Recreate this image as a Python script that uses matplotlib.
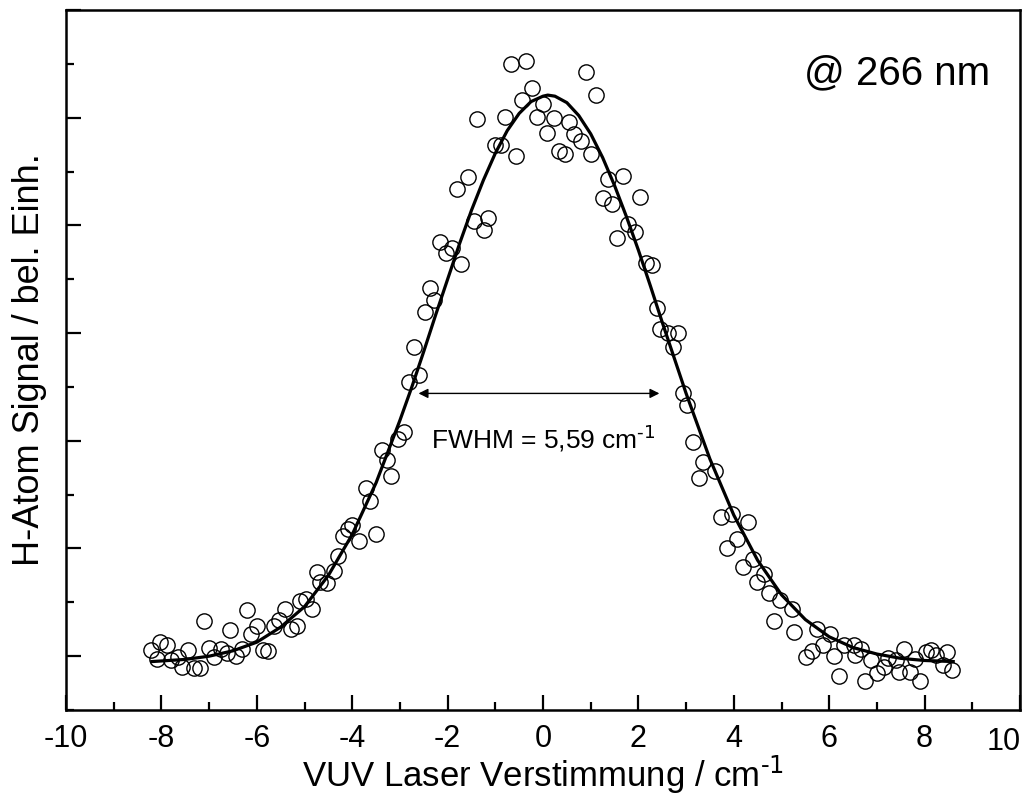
import matplotlib
matplotlib.use("Agg")
from matplotlib import pyplot as plt
from matplotlib.ticker import MultipleLocator, NullFormatter, FuncFormatter

plt.rcParams['font.family'] = ['Liberation Sans', 'DejaVu Sans']
plt.rcParams['mathtext.default'] = 'regular'
plt.rcParams['axes.unicode_minus'] = False

# measured points (detuning in cm-1, signal in arb. units)
x_data = [-8.22, -8.10, -8.02, -7.89, -7.79, -7.66, -7.56, -7.45, -7.31, -7.19,
          -7.10, -7.00, -6.89, -6.75, -6.63, -6.56, -6.44, -6.32, -6.20, -6.12,
          -6.00, -5.88, -5.76, -5.65, -5.53, -5.41, -5.29, -5.16, -5.09, -4.97,
          -4.85, -4.74, -4.67, -4.53, -4.39, -4.29, -4.20, -4.09, -4.01, -3.85,
          -3.72, -3.62, -3.50, -3.38, -3.27, -3.18, -3.03, -2.92, -2.82, -2.71,
          -2.59, -2.48, -2.36, -2.29, -2.15, -2.03, -1.91, -1.80, -1.71, -1.57,
          -1.45, -1.38, -1.24, -1.15, -1.01, -0.89, -0.80, -0.68, -0.56, -0.45,
          -0.35, -0.24, -0.12, -0.01, 0.09, 0.23, 0.34, 0.46, 0.55, 0.65,
          0.79, 0.90, 1.00, 1.12, 1.25, 1.37, 1.44, 1.56, 1.67, 1.79,
          1.93, 2.03, 2.16, 2.28, 2.38, 2.45, 2.61, 2.72, 2.82, 2.93,
          3.02, 3.14, 3.28, 3.36, 3.61, 3.73, 3.85, 3.96, 4.06, 4.19,
          4.29, 4.40, 4.48, 4.64, 4.73, 4.85, 4.96, 5.22, 5.27, 5.52,
          5.64, 5.74, 5.86, 6.01, 6.11, 6.20, 6.32, 6.51, 6.55, 6.67,
          6.76, 6.88, 7.00, 7.14, 7.23, 7.39, 7.46, 7.56, 7.69, 7.79,
          7.91, 8.03, 8.14, 8.24, 8.38, 8.47, 8.57]
y_data = [0.06, -0.03, 0.13, 0.10, -0.04, -0.01, -0.10, 0.06, -0.11, -0.11,
          0.33, 0.08, -0.01, 0.07, 0.03, 0.24, 0.00, 0.07, 0.43, 0.21,
          0.28, 0.06, 0.05, 0.28, 0.34, 0.44, 0.25, 0.28, 0.51, 0.53,
          0.44, 0.78, 0.69, 0.68, 0.79, 0.93, 1.12, 1.18, 1.22, 1.07,
          1.56, 1.44, 1.13, 1.91, 1.82, 1.67, 2.02, 2.08, 2.55, 2.87,
          2.61, 3.20, 3.42, 3.31, 3.85, 3.74, 3.79, 4.34, 3.64, 4.45,
          4.04, 4.99, 3.96, 4.07, 4.75, 4.75, 5.01, 5.50, 4.64, 5.16,
          5.53, 5.28, 5.01, 5.13, 4.86, 5.00, 4.69, 4.66, 4.96, 4.85,
          4.78, 5.42, 4.66, 5.21, 4.25, 4.43, 4.20, 3.88, 4.46, 4.01,
          3.94, 4.26, 3.65, 3.63, 3.23, 3.04, 3.00, 2.87, 3.00, 2.44,
          2.33, 1.99, 1.65, 1.80, 1.72, 1.29, 1.00, 1.32, 1.09, 0.83,
          1.25, 0.90, 0.69, 0.76, 0.59, 0.33, 0.52, 0.44, 0.22, -0.01,
          0.05, 0.25, 0.10, 0.21, 0.00, -0.18, 0.10, 0.10, 0.01, 0.07,
          -0.23, -0.04, -0.16, -0.10, -0.02, -0.04, -0.15, 0.07, -0.15, -0.03,
          -0.23, 0.04, 0.06, 0.01, -0.08, 0.04, -0.13]

# fitted curve
x_fit = [-8.2, -7.5, -7.0, -6.5, -6.0, -5.5, -5.0, -4.5, -4.0, -3.5, -3.0,
         -2.75, -2.5, -2.25, -2.0, -1.75, -1.5, -1.25, -1.0, -0.75, -0.5,
         -0.25, 0.0, 0.1, 0.25, 0.5, 0.75, 1.0, 1.25, 1.5, 1.75, 2.0, 2.25,
         2.5, 2.75, 3.0, 3.5, 4.0, 4.5, 5.0, 5.5, 6.0, 6.5, 7.0, 7.5, 8.0, 8.6]
y_fit = [-0.05, -0.03, 0.00, 0.05, 0.13, 0.27, 0.46, 0.75, 1.13, 1.61, 2.19,
         2.50, 2.83, 3.17, 3.50, 3.83, 4.14, 4.42, 4.67, 4.88, 5.04,
         5.15, 5.20, 5.21, 5.20, 5.14, 5.02, 4.85, 4.63, 4.37, 4.08, 3.77, 3.44,
         3.10, 2.77, 2.44, 1.83, 1.31, 0.89, 0.57, 0.34, 0.18, 0.08, 0.02, -0.02, -0.04, -0.05]

fwhm_left, fwhm_right, fwhm_level = -2.61, 2.44, 2.44
x_max = 10

fig = plt.figure(figsize=(10.35, 7.96), dpi=100)
ax = fig.add_axes([0.0638, 0.108, 0.9217, 0.8794])

ax.plot(x_fit, y_fit, color='black', lw=2.3, zorder=2)
ax.plot(x_data, y_data, 'o', mfc='none', mec='black', ms=11, mew=1.0, zorder=3)

ax.annotate('', xy=(fwhm_right, fwhm_level), xytext=(fwhm_left, fwhm_level),
            arrowprops=dict(arrowstyle='<|-|>', color='black', lw=1.0,
                            mutation_scale=14, shrinkA=0, shrinkB=0))
ax.text(0.0, 2.02, r'FWHM = 5,59 cm$^{\text{-1}}$', ha='center', va='center', fontsize=19)
ax.text(7.42, 5.41, '@ 266 nm', ha='center', va='center', fontsize=29)

ax.set_xlim(-x_max, x_max)
ax.set_ylim(-0.5, 6.0)
ax.xaxis.set_major_locator(MultipleLocator(2))
ax.xaxis.set_minor_locator(MultipleLocator(1))
ax.yaxis.set_major_locator(MultipleLocator(1))
ax.yaxis.set_minor_locator(MultipleLocator(0.5))
ax.yaxis.set_major_formatter(NullFormatter())
# last label is pulled inside the figure, like in the original
ax.xaxis.set_major_formatter(FuncFormatter(lambda v, p: '' if v >= x_max else '%d' % v))

ax.tick_params(axis='both', which='major', direction='in', length=11, width=1.6,
               labelsize=22)
ax.tick_params(axis='both', which='minor', direction='in', length=6, width=1.6)
ax.tick_params(axis='x', pad=10)
for s in ax.spines.values():
    s.set_linewidth(1.8)

ax.text(x_max + 0.02, -0.045, '%d' % x_max, transform=ax.get_xaxis_transform(),
        ha='right', va='center', fontsize=22)

ax.set_xlabel(r'VUV Laser Verstimmung / cm$^{\text{-1}}$', fontsize=25, labelpad=0)
ax.set_ylabel('H-Atom Signal / bel. Einh.', fontsize=26, labelpad=10)

fig.savefig('out.png', dpi=100)
